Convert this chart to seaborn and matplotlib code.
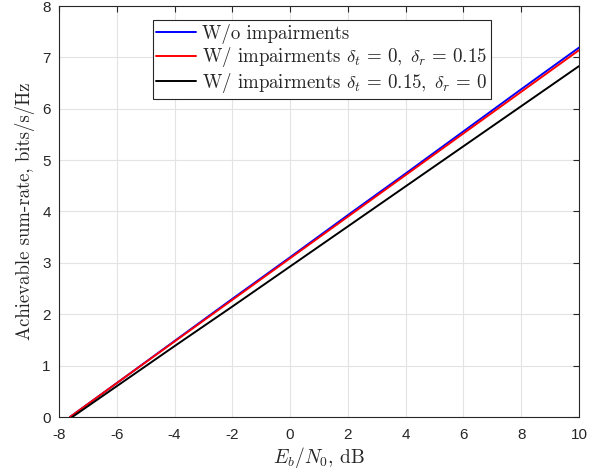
import matplotlib
matplotlib.use("Agg")
import matplotlib.pyplot as plt
import seaborn as sns
import pandas as pd

# values (lines are straight, clipped at 0)
ebn0 = [-7.62, -6, -4, -2, 0, 2, 4, 6, 8, 10]
rate_ideal = [0.0, 0.66, 1.48, 2.30, 3.11, 3.93, 4.74, 5.56, 6.38, 7.19]
rate_rx = [0.0, 0.66, 1.47, 2.28, 3.09, 3.90, 4.71, 5.52, 6.33, 7.14]
ebn0_tx = [-7.54, -6, -4, -2, 0, 2, 4, 6, 8, 10]
rate_tx = [0.0, 0.60, 1.38, 2.15, 2.93, 3.71, 4.49, 5.27, 6.05, 6.83]

labels = ["W/o impairments",
          r"W/ impairments $\delta_t\,=\,0,\;\delta_r\,=\,0.15$",
          r"W/ impairments $\delta_t\,=\,0.15,\;\delta_r\,=\,0$"]

df = pd.concat([
    pd.DataFrame({"x": ebn0, "y": rate_ideal, "case": labels[0]}),
    pd.DataFrame({"x": ebn0, "y": rate_rx, "case": labels[1]}),
    pd.DataFrame({"x": ebn0_tx, "y": rate_tx, "case": labels[2]}),
])

sns.set_style("white")
plt.rcParams["mathtext.fontset"] = "cm"
plt.rcParams["axes.unicode_minus"] = False
plt.rcParams["font.family"] = ["Liberation Sans", "DejaVu Sans"]

fig = plt.figure(figsize=(6.03, 4.73), dpi=100)
ax = fig.add_axes([59 / 603, 1 - 417 / 473, 520 / 603, 411 / 473])

sns.lineplot(data=df, x="x", y="y", hue="case", hue_order=labels,
             palette=["#0000ff", "#ff0000", "#000000"], linewidth=1.4,
             sort=False, ax=ax)

ax.set_xlim(-8, 10)
ax.set_ylim(0, 8)
ax.set_xticks(range(-8, 11, 2))
ax.set_yticks(range(0, 9))
ax.grid(True, color="#e3e3e3", linewidth=0.8)
ax.tick_params(direction="in", top=True, right=True, labelsize=11,
               colors="#262626", length=4)
ax.tick_params(axis="x", pad=8)
ax.tick_params(axis="y", pad=6)
for s in ax.spines.values():
    s.set_color("#262626")
    s.set_linewidth(0.8)

ax.set_xlabel(r"$E_b/N_0$, dB", fontsize=14, family="cmr10", color="#262626",
              labelpad=2)
ax.set_ylabel("Achievable sum-rate, bits/s/Hz", fontsize=13.5, family="cmr10",
              color="#262626", labelpad=5)

leg = ax.legend(loc="upper left", bbox_to_anchor=(0.18, 0.966),
                fancybox=False, framealpha=1, edgecolor="#262626",
                prop={"family": "cmr10", "size": 13.6}, handlelength=2.1,
                borderaxespad=0, borderpad=0.2, labelspacing=0.08,
                handletextpad=0.3)
leg.get_frame().set_linewidth(0.8)

fig.savefig("out.png", dpi=100)
